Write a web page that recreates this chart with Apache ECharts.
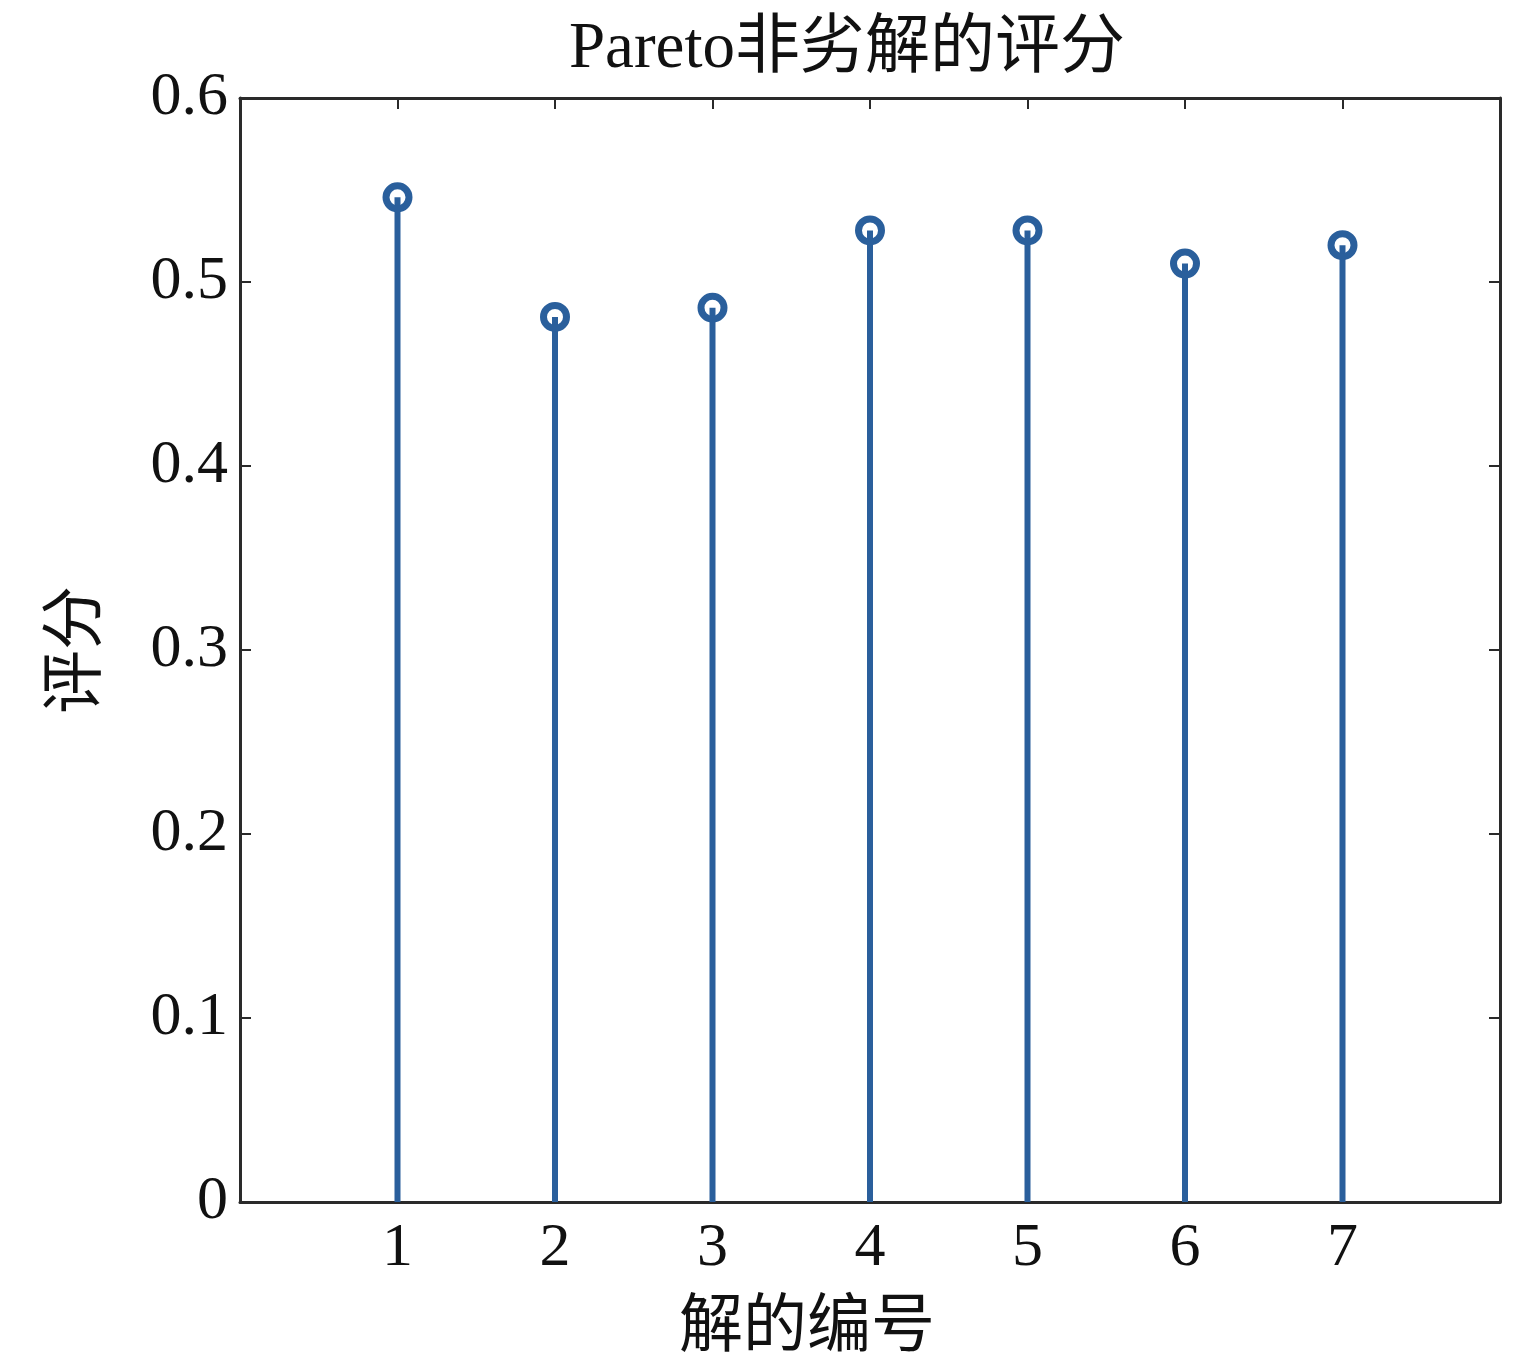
<!DOCTYPE html>
<html>
<head>
<meta charset="utf-8">
<script src="https://cdn.jsdelivr.net/npm/echarts@6/dist/echarts.min.js"></script>
<style>
html,body{margin:0;padding:0;background:#fff;}
#chart{width:1535px;height:1366px;}
</style>
</head>
<body>
<div id="chart"></div>
<script>
var titleText = 'Pareto非劣解的评分';
var xName = '解的编号';
var yName = '评分';
var solutionIds = [1, 2, 3, 4, 5, 6, 7];
var scores = [0.546, 0.481, 0.486, 0.528, 0.528, 0.510, 0.520];
var yTicks = [0, 0.1, 0.2, 0.3, 0.4, 0.5, 0.6];

var FONT = '"Liberation Serif", "Noto Sans CJK SC", serif';
var BLUE = '#2a5f9c';
var AXIS = '#2a2a2a';
var pts = solutionIds.map(function (id, i) { return [id, scores[i]]; });

function frameAxis(extra) {
  var base = {
    axisLine: { show: true, onZero: false, lineStyle: { color: AXIS, width: 3 } },
    axisTick: { show: true, inside: true, length: 11, lineStyle: { color: AXIS, width: 2 } },
    splitLine: { show: false }
  };
  for (var k in extra) base[k] = extra[k];
  return base;
}

var chart = echarts.init(document.getElementById('chart'));
chart.setOption({
  animation: false,
  backgroundColor: '#ffffff',
  title: {
    text: titleText,
    left: 842, top: 12, textAlign: 'center',
    textStyle: { fontFamily: FONT, fontSize: 65, fontWeight: 'normal', color: '#111' }
  },
  grid: { left: 240, right: 35, top: 98, bottom: 163 },
  xAxis: [frameAxis({
    type: 'value', min: 0, max: 8, interval: 1, position: 'bottom',
    name: xName, nameLocation: 'middle', nameGap: 95,
    nameTextStyle: { fontFamily: FONT, fontSize: 64, color: '#111', padding: [0, 126, 0, 0] },
    axisLabel: {
      fontFamily: FONT, fontSize: 62, color: '#111', margin: 16,
      formatter: function (v) { return (v >= 1 && v <= 7) ? String(v) : ''; }
    }
  }), frameAxis({
    type: 'value', min: 0, max: 8, interval: 1, position: 'top',
    axisLabel: { show: false }
  })],
  yAxis: [frameAxis({
    type: 'value', min: 0, max: 0.6, interval: 0.1, position: 'left',
    name: yName, nameLocation: 'middle', nameGap: 130, nameRotate: 90,
    nameTextStyle: { fontFamily: FONT, fontSize: 64, color: '#111' },
    axisLabel: {
      fontFamily: FONT, fontSize: 62, color: '#111', margin: 12,
      formatter: function (v) { return v === 0 ? '0' : v.toFixed(1); }
    }
  }), frameAxis({
    type: 'value', min: 0, max: 0.6, interval: 0.1, position: 'right',
    axisLabel: { show: false }
  })],
  series: [{
    type: 'bar',
    data: pts,
    barWidth: 6,
    itemStyle: { color: BLUE },
    z: 2
  }, {
    type: 'scatter',
    data: pts,
    symbol: 'circle',
    symbolSize: 23,
    itemStyle: { color: 'rgba(255,255,255,0)', borderColor: BLUE, borderWidth: 7, opacity: 1 },
    z: 3
  }, {
    type: 'line', xAxisIndex: 1, yAxisIndex: 1, data: [], silent: true
  }]
});
</script>
</body>
</html>
